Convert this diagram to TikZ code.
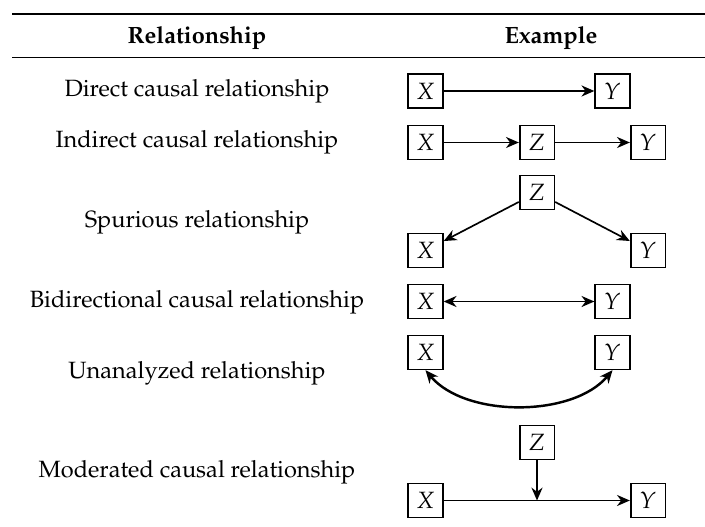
\documentclass[tikz,border=0pt]{standalone}
\usepackage[T1]{fontenc}
\usepackage{mathpazo}
\usetikzlibrary{arrows.meta}
\begin{document}
\begin{tikzpicture}[x=0.45pt,y=-0.45pt,
  every node/.style={font=\fontsize{10.6}{12.7}\selectfont},
  var/.style={draw, line width=0.75pt, inner sep=0pt, minimum width=15.6pt, minimum height=15.2pt},
  lab/.style={anchor=base, inner sep=0pt},
  tip/.tip={Stealth[length=5.8pt,width=5pt]},
  arr/.style={-tip, line width=0.75pt},
  darr/.style={tip-tip, line width=0.75pt},
  carr/.style={tip-tip, line width=1.1pt},
]
\useasboundingbox (0,0) rectangle (705,527);
% rules
\coordinate (tl) at (12,14); \coordinate (tr) at (705,14);
\coordinate (ml) at (12,57.5); \coordinate (mr) at (705,57.5);
\draw[line width=0.9pt] (tl) -- (tr);
\draw[line width=0.55pt] (ml) -- (mr);
% header
\node[lab,font=\fontsize{10.6}{12.7}\selectfont\bfseries] (h1) at (197,44) {Relationship};
\node[lab,font=\fontsize{10.6}{12.7}\selectfont\bfseries] (h2) at (551,44) {Example};
% labels
\node[lab] (t1) at (197,97) {Direct causal relationship};
\node[lab] (t2) at (197,148) {Indirect causal relationship};
\node[lab] (t3) at (197,228) {Spurious relationship};
\node[lab] (t4) at (197,307) {Bidirectional causal relationship};
\node[lab] (t5) at (197,378) {Unanalyzed relationship};
\node[lab] (t6) at (197,477) {Moderated causal relationship};
% row 1
\node[var] (x1) at (425.5,91) {$X$};
\node[var] (y1) at (612.5,91) {$Y$};
\draw[arr] (x1) -- (y1);
% row 2
\node[var] (x2) at (425.5,142.5) {$X$};
\node[var] (z2) at (537,142.5) {$Z$};
\node[var] (y2) at (648,142.5) {$Y$};
\draw[arr] (x2) -- (z2);
\draw[arr] (z2) -- (y2);
% row 3
\node[var] (z3) at (537,192.5) {$Z$};
\node[var] (x3) at (425.5,250.5) {$X$};
\node[var] (y3) at (648,250.5) {$Y$};
\draw[arr] (z3) -- (x3);
\draw[arr] (z3) -- (y3);
% row 4
\node[var] (x4) at (425.5,301.5) {$X$};
\node[var] (y4) at (612.5,301.5) {$Y$};
\draw[darr] (x4) -- (y4);
% row 5
\node[var] (x5) at (425.5,352.5) {$X$};
\node[var] (y5) at (612.5,352.5) {$Y$};
\draw[carr] (x5.south) to[out=-50,in=-130,looseness=0.85] (y5.south);
% row 6
\node[var] (z6) at (537,442.5) {$Z$};
\node[var] (x6) at (425.5,500.5) {$X$};
\node[var] (y6) at (648,500.5) {$Y$};
\draw[arr] (x6) -- (y6);
\coordinate (m6) at (z6 |- x6);
\draw[arr] (z6) -- (m6);
\end{tikzpicture}
\end{document}
